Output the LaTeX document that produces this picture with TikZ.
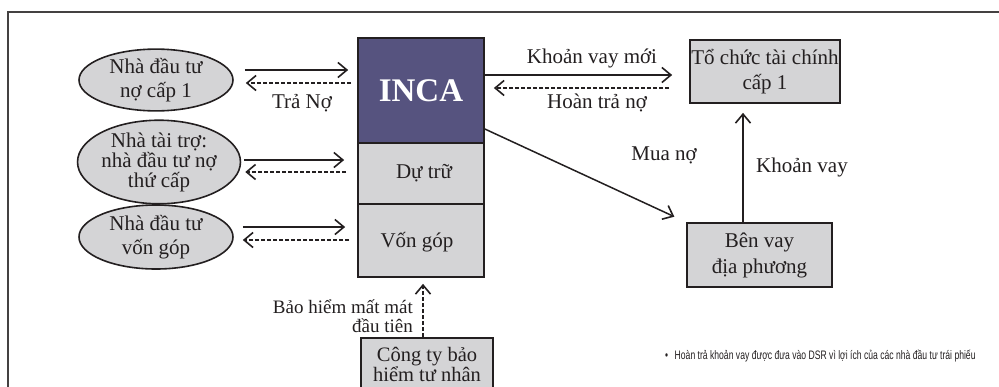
\documentclass[tikz,border=0pt]{standalone}
\usepackage{fontspec}
\setmainfont{Liberation Serif}
\newfontfamily\notefont[FakeStretch=0.7]{Liberation Sans}
\usetikzlibrary{arrows.meta,shapes.geometric,calc}
\definecolor{boxgray}{HTML}{D4D4D6}
\definecolor{incablue}{HTML}{56537F}
\definecolor{ink}{HTML}{231F20}
\begin{document}
\begin{tikzpicture}[x=1pt,y=-1pt,
  every node/.style={font=\fontsize{21}{24}\selectfont, text=ink},
  ell/.style={ellipse, draw=ink, fill=boxgray, line width=1.6pt, minimum width=154pt, minimum height=61pt, inner sep=0pt, align=center},
  gbox/.style={rectangle, draw=ink, fill=boxgray, line width=1.7pt, inner sep=0pt, align=center},
  sol/.style={draw=ink, line width=1.5pt, -{Straight Barb[length=9pt,width=15pt,line width=1.6pt]}},
  dsh/.style={draw=ink, line width=1.5pt, dash pattern=on 4pt off 2pt, -{Straight Barb[length=9pt,width=15pt,line width=1.6pt]}},
  lbl/.style={inner sep=0pt, align=center}]
\useasboundingbox (0,0) rectangle (999,386);
\fill[white] (0,0) rectangle (999,386);
% frame
\draw[draw=ink!85, line width=1.3pt] (8,390) -- (8,12) -- (1003,12);

% ellipses
\node[ell] (e1) at (156,80) {Nhà đầu tư\\nợ cấp 1};
\node[ell, minimum width=155pt, minimum height=64pt, font=\fontsize{21}{20}\selectfont] (e2) at (159,162) {Nhà tài trợ:\\nhà đầu tư nợ\\thứ cấp};
\node[ell, minimum height=64pt] (e3) at (156,237) {Nhà đầu tư\\vốn góp};

% INCA column
\node[rectangle, draw=ink, fill=incablue, line width=1.7pt, minimum width=126pt, minimum height=105pt, inner sep=0pt] (inca) at (421,90.5) {};
\node[text=white, font=\fontsize{33}{36}\bfseries\selectfont, inner sep=0pt] (incat) at (421,91) {INCA};
\node[gbox, minimum width=126pt, minimum height=61pt] (res) at (421,173.5) {};
\node[lbl] (rest) at (424,173) {Dự trữ};
\node[gbox, minimum width=126pt, minimum height=73pt] (eq) at (421,240.5) {};
\node[lbl] (eqt) at (417,242) {Vốn góp};

% right boxes
\node[gbox, minimum width=150pt, minimum height=63pt, font=\fontsize{21}{25}\selectfont] (tc) at (765,71.5) {Tổ chức tài chính\\cấp 1};
\node[gbox, minimum width=145pt, minimum height=64pt, font=\fontsize{21}{26}\selectfont] (bv) at (759.5,255) {Bên vay\\địa phương};
\node[gbox, minimum width=132pt, minimum height=52pt, font=\fontsize{20.5}{20}\selectfont] (ct) at (427,364) {Công ty bảo\\hiểm tư nhân};

% left arrows
\draw[sol, shorten <=11pt, shorten >=9pt] (e1.east |- 0,70) -- (inca.west |- 0,70);
\draw[dsh, shorten <=6pt, shorten >=12pt] (inca.west |- 0,83) -- (e1.east |- 0,83);
\draw[sol, shorten <=3pt, shorten >=13pt] (e2.east |- 0,160) -- (res.west |- 0,160);
\draw[dsh, shorten <=11pt, shorten >=4pt] (res.west |- 0,172) -- (e2.east |- 0,172);
\draw[sol, shorten <=9pt, shorten >=12pt] (e3.east |- 0,227) -- (eq.west |- 0,227);
\draw[dsh, shorten <=8pt, shorten >=9pt] (eq.west |- 0,240) -- (e3.east |- 0,240);

% right arrows
\draw[sol, shorten >=17pt] (inca.east |- 0,75) -- (tc.west |- 0,75);
\draw[dsh, shorten <=20pt, shorten >=9pt] (tc.west |- 0,88) -- (inca.east |- 0,88);
\draw[sol, shorten >=9pt] (bv.north -| 743,0) -- (tc.south -| 743,0);
\draw[sol, shorten >=13pt] (inca.east |- 0,129) -- (bv.north west);
\draw[dsh, shorten >=6pt] (ct.north -| 423,0) -- (eq.south -| 423,0);

% labels
\node[lbl] (l1) at (302,103) {Trả Nợ};
\node[lbl] (l2) at (592,58) {Khoản vay mới};
\node[lbl] (l3) at (597,103) {Hoàn trả nợ};
\node[lbl] (l4) at (664,155) {Mua nợ};
\node[lbl] (l5) at (802,167) {Khoản vay};
\node[lbl, align=right, anchor=east, font=\fontsize{19}{18.5}\selectfont] (l6) at (413,316) {Bảo hiểm mất mát\\đầu tiên};
\node[lbl, anchor=west, font=\notefont\fontsize{12.3}{14}\selectfont] (note) at (665,356) {•\,\, Hoàn trả khoản vay được đưa vào DSR vì lợi ích của các nhà đầu tư trái phiếu};
\end{tikzpicture}
\end{document}
